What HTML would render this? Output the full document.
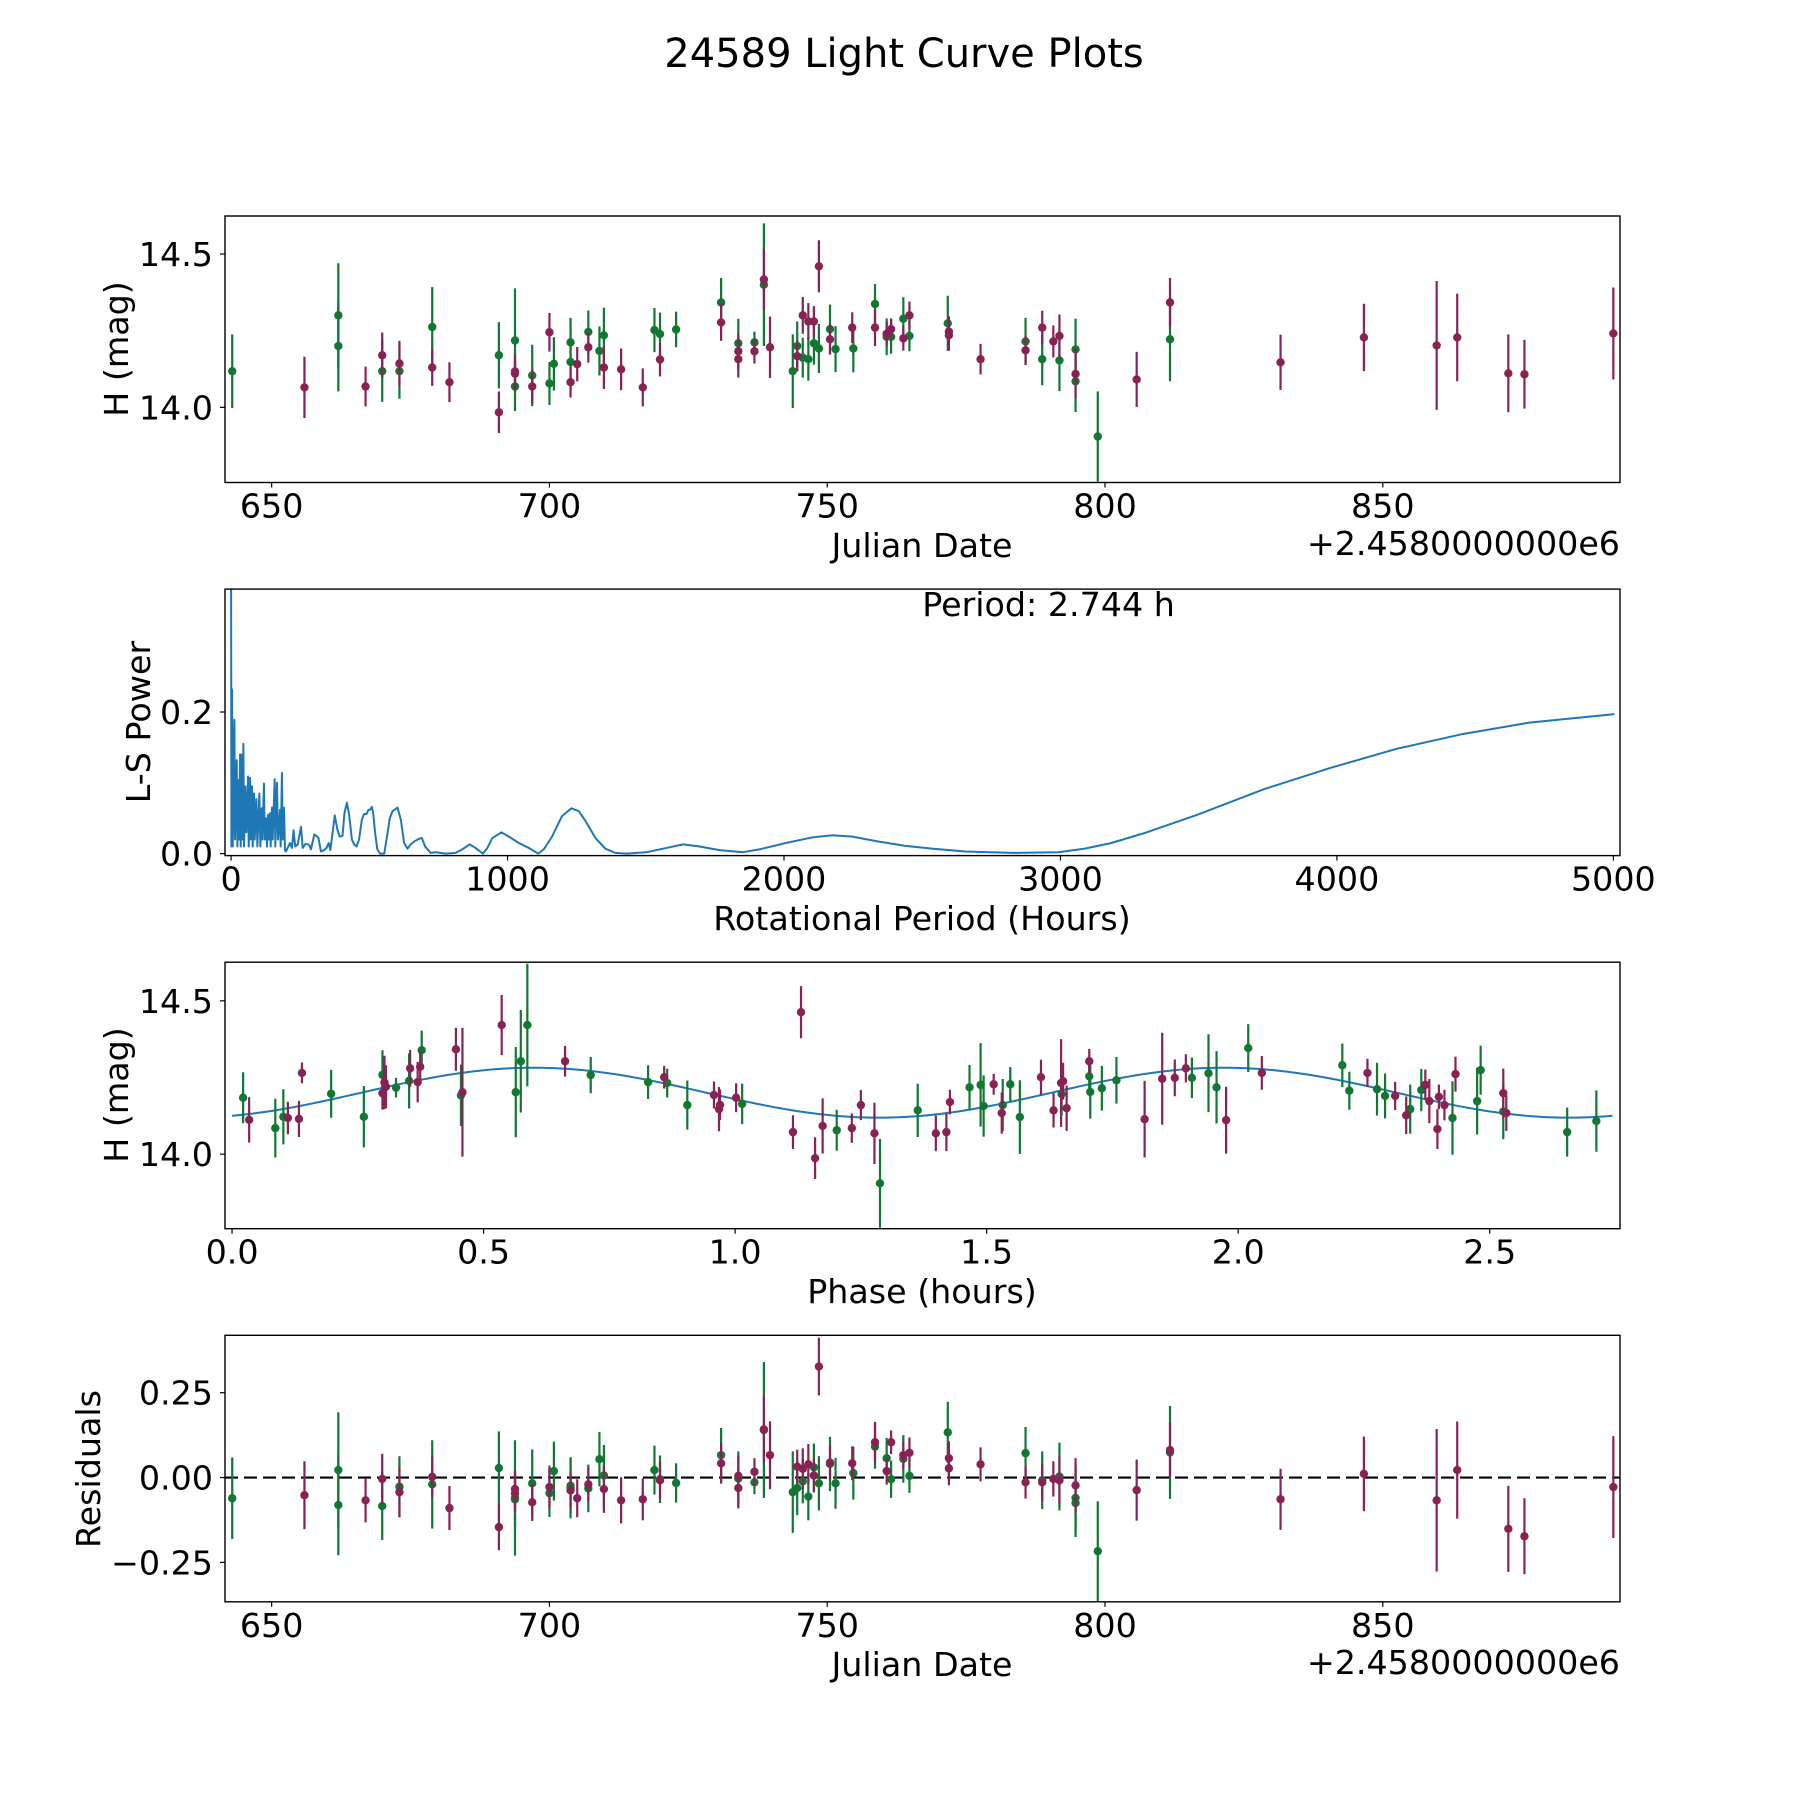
<!DOCTYPE html>
<html><head><meta charset="utf-8"><style>
html,body{margin:0;padding:0;background:#fff}
svg{display:block}
text{font-family:"DejaVu Sans","Liberation Sans",sans-serif;fill:#000}
</style></head><body>
<svg id="fig" width="1800" height="1800" viewBox="0 0 1800 1800" xmlns="http://www.w3.org/2000/svg">
<rect width="1800" height="1800" fill="#fff"/>
<text x="904" y="67" font-size="40" text-anchor="middle">24589 Light Curve Plots</text>
<defs>
<clipPath id="c1"><rect x="225" y="216" width="1395" height="266.5"/></clipPath>
<clipPath id="c2"><rect x="225" y="589.1" width="1395" height="266.5"/></clipPath>
<clipPath id="c3"><rect x="225" y="962.2" width="1395" height="266.5"/></clipPath>
<clipPath id="c4"><rect x="225" y="1335.3" width="1395" height="266.5"/></clipPath>
</defs>
<g id="root"></g>
</svg>
<script>
// ---- Observation data (JD - 2458000) ----
const jd = [642.9,655.9,662.0,662.0,666.9,669.9,669.9,673.0,673.0,678.9,678.9,682.0,690.9,690.9,693.8,693.8,693.8,693.8,696.9,696.9,700.0,700.0,700.8,703.8,703.8,703.8,705.0,707.0,707.0,709.0,709.8,709.8,712.9,716.8,718.9,719.9,719.9,722.8,730.9,730.9,734.0,734.0,734.0,736.9,736.9,738.6,738.6,739.7,743.8,744.6,744.6,745.6,745.6,746.6,746.6,747.6,747.6,748.5,748.5,750.5,750.5,751.5,754.5,754.7,758.6,758.6,760.7,760.7,761.5,761.5,763.7,763.7,764.8,764.8,771.7,771.9,771.9,777.6,785.7,785.7,788.7,788.7,790.7,791.8,791.8,794.7,794.7,794.7,798.7,805.7,811.7,811.7,831.6,846.6,859.7,863.4,872.6,875.5,891.5];
const mag = [14.118,14.065,14.30,14.20,14.068,14.17,14.118,14.118,14.143,14.13,14.262,14.082,14.17,13.984,14.117,14.11,14.068,14.218,14.104,14.068,14.245,14.078,14.142,14.212,14.148,14.082,14.141,14.246,14.196,14.184,14.235,14.13,14.124,14.065,14.252,14.239,14.156,14.254,14.342,14.277,14.209,14.183,14.157,14.212,14.183,14.40,14.417,14.196,14.118,14.2,14.167,14.3,14.162,14.28,14.157,14.28,14.209,14.46,14.192,14.255,14.222,14.19,14.26,14.192,14.337,14.26,14.23,14.24,14.255,14.23,14.289,14.225,14.3,14.233,14.274,14.247,14.235,14.157,14.215,14.186,14.26,14.157,14.215,14.233,14.153,14.189,14.109,14.085,13.905,14.091,14.342,14.222,14.147,14.228,14.202,14.228,14.111,14.108,14.241];
const magErr = [.12,.10,.17,.148,.065,.074,.1,.09,.074,.06,.13,.065,.108,.068,.055,.055,.08,.17,.1,.055,.063,.07,.087,.08,.09,.05,.056,.07,.05,.08,.09,.07,.068,.062,.072,.07,.055,.058,.08,.06,.08,.06,.06,.035,.04,.2,.1,.1,.12,.08,.05,.06,.065,.06,.07,.05,.07,.085,.08,.08,.05,.075,.05,.078,.065,.06,.06,.04,.035,.055,.07,.04,.045,.05,.09,.05,.05,.05,.077,.048,.055,.085,.052,.07,.1,.1,.08,.1,.147,.09,.08,.137,.09,.11,.21,.143,.127,.112,.15];
const filt = "GPGGPPGGPPGPGPPPGGGPPGGGGPPGPGGPPPGGPGGPGPPGPGPPGGPPGPGPGPGGPGPGGPGPPGGPPGGPPPGPPGPPGGPGGPPGPPPPPPPP".split("");
const resid = [-.061,-.052,.022,-.081,-.067,-.004,-.084,-.027,-.043,.002,-.02,-.09,.028,-.146,-.034,-.047,-.064,-.06,-.017,-.073,-.028,-.046,.019,-.024,-.03,-.038,-.061,-.032,-.02,.054,.006,-.034,-.067,-.064,.022,-.005,-.008,-.016,.066,.042,-.003,.005,-.031,-.014,.017,.14,.142,.066,-.043,-.031,.032,.026,-.011,.039,-.056,.006,.03,.327,-.017,.04,.044,-.017,.042,.013,.091,.104,.057,.019,.104,-.005,.055,.066,.073,.005,.133,.057,.027,.039,.072,-.014,-.014,-.008,-.004,-.008,.003,-.06,-.023,-.075,-.217,-.037,.081,.074,-.064,.011,-.067,.022,-.151,-.173,-.028];

// ---- Phase-folded data ----
const phase = [.022,.034,.086,.102,.111,.133,.139,.197,.262,.299,.299,.303,.306,.326,.352,.354,.369,.374,.377,.445,.455,.458,.536,.564,.574,.587,.662,.713,.827,.859,.865,.905,.958,.968,.970,1.002,1.014,1.115,1.131,1.159,1.174,1.202,1.232,1.25,1.277,1.288,1.363,1.399,1.42,1.427,1.466,1.488,1.494,1.514,1.53,1.532,1.547,1.566,1.608,1.633,1.648,1.649,1.652,1.659,1.704,1.704,1.706,1.729,1.758,1.814,1.849,1.874,1.896,1.908,1.941,1.957,1.976,2.02,2.047,2.207,2.221,2.257,2.276,2.292,2.312,2.334,2.342,2.364,2.372,2.38,2.396,2.399,2.41,2.426,2.432,2.475,2.482,2.527,2.527,2.533,2.654,2.712];
const phMag = [14.184,14.112,14.085,14.122,14.118,14.115,14.265,14.197,14.122,14.259,14.199,14.234,14.22,14.217,14.239,14.28,14.235,14.285,14.339,14.342,14.192,14.202,14.421,14.202,14.303,14.421,14.303,14.258,14.235,14.251,14.232,14.16,14.193,14.147,14.161,14.184,14.164,14.072,14.463,13.987,14.092,14.078,14.085,14.16,14.068,13.905,14.143,14.068,14.072,14.17,14.218,14.226,14.157,14.228,14.134,14.16,14.228,14.121,14.251,14.143,14.232,14.196,14.238,14.15,14.303,14.254,14.203,14.215,14.241,14.114,14.246,14.249,14.28,14.249,14.264,14.218,14.111,14.346,14.265,14.29,14.207,14.265,14.212,14.19,14.19,14.127,14.147,14.209,14.226,14.173,14.082,14.187,14.16,14.118,14.261,14.173,14.274,14.199,14.139,14.134,14.072,14.108];
const phErr = [.083,.074,.096,.09,.053,.059,.034,.078,.1,.08,.054,.087,.07,.032,.09,.06,.066,.05,.064,.07,.1,.21,.098,.147,.167,.2,.05,.059,.055,.037,.047,.08,.044,.072,.05,.047,.066,.055,.085,.068,.09,.067,.048,.049,.1,.145,.087,.058,.062,.04,.073,.136,.1,.034,.067,.085,.056,.12,.057,.056,.143,.07,.06,.074,.04,.06,.087,.073,.076,.125,.15,.06,.046,.066,.127,.118,.109,.078,.055,.071,.062,.046,.086,.073,.046,.061,.08,.069,.05,.072,.065,.04,.05,.12,.057,.109,.08,.08,.09,.058,.08,.1];
const phFilt = "GPGGPPPGGGPPPGGPPPGPGPPGGGPGGPGGPPPPGPPPPGPPPGGPPPGGGPPGGGPPPGPPPGGGGPPPPGGGPGPGGPGGPPGGPPPPPGPGGPGPGG".split("");
// fitted model parameters
const fitMean = [14.2005];
const fitAmp = [0.0815];
const fitHalf = [1.372];
const fitPeak = [0.6];
const fitPeriod = [2.744];

// ---- Lomb-Scargle periodogram (period hours, power) ----
const lsPeriod = [0,1.2,3.6,6,12,14.4,20.5,22.9,26.5,28.9,32.5,34.9,38.5,40.9,44.5,46.9,51.7,55.4,61.4,63.8,68.6,71,75.8,78.2,83,85.4,91.5,95,102.3,105.9,110.7,113,119,121.5,126.4,130,133.6,136,140.8,143.2,148,150.4,157.6,160,166,169.7,176.9,179.3,184,186.5,191.3,195,
 198.6,213,220,226,232,241,253,259,268,273,283,289,301,309,316,325,337,345,353,359,367,375,385,393,403,410,419,427,437,445,454,463,473,481,490,497,503,509,514,521,529,539,554,566,574,584,602,614,626,638,650,662,680,690,702,722,740,776,812,836,863,884,911,927,945,978,1005,1041,1077,1111,1131,1161,1197,1231,1258,1282,1318,1354,1390,
 1431,1503,1575,1635,1695,1767,1851,1911,2007,2103,2175,2247,2343,2439,2535,2655,2824,2992,3088,3184,3304,3496,3736,3976,4216,4456,4696,5004];
const lsPower = [0.40,0.01,0.232,0.01,0.189,0.02,0.132,0.01,0.104,0.02,0.14,0.01,0.14,0.02,0.155,0.01,0.095,0.03,0.109,0.01,0.107,0.02,0.095,0.01,0.085,0.02,0.077,0.01,0.085,0.01,0.064,0.02,0.099,0.02,0.05,0.01,0.055,0.02,0.057,0.01,0.065,0.02,0.105,0.01,0.1,0.02,0.062,0.01,0.114,0.02,0.065,0.005,
 0.003,0.015,0.008,0.033,0.010,0.013,0.038,0.008,0.013,0.014,0.012,0.006,0.027,0.025,0.022,0.003,0.005,0.008,0.015,0.005,0.029,0.054,0.033,0.024,0.025,0.057,0.072,0.055,0.020,0.013,0.010,0.020,0.048,0.056,0.056,0.062,0.062,0.066,0.057,0.029,0.006,0,0,0.029,0.050,0.060,0.065,0.048,0.015,0.007,0.013,0.017,0.021,0.022,0.010,0.001,0.002,0,0.001,0.006,0.013,0.008,0,0.008,0.022,0.030,0.024,0.015,0.008,0,0.006,0.024,0.053,0.064,0.060,0.046,0.022,0.007,0.001,
 0,0.002,0.008,0.013,0.010,0.005,0.002,0.006,0.015,0.023,0.026,0.024,0.017,0.011,0.007,0.003,0.001,0.002,0.007,0.015,0.029,0.055,0.091,0.121,0.148,0.169,0.185,0.197];

// ---- Tick labels ----
const jdTicks = [650,700,750,800,850];
const magTicks = [14.0,14.5];
const magTickLabels = ["14.0","14.5"];
const lsXTicks = [0,1000,2000,3000,4000,5000];
const lsYTicks = [0.0,0.2];
const lsYTickLabels = ["0.0","0.2"];
const phTicks = [0.0,0.5,1.0,1.5,2.0,2.5];
const phTickLabels = ["0.0","0.5","1.0","1.5","2.0","2.5"];
const resTicks = [-0.25,0,0.25];
const resTickLabels = ["\u22120.25","0.00","0.25"];

const NS = "http://www.w3.org/2000/svg";
const root = document.getElementById("root");
const GREEN = "#117733", PURPLE = "#882255", BLUE = "#1f77b4";

function el(tag, attrs, parent) {
  const e = document.createElementNS(NS, tag);
  for (const k in attrs) e.setAttribute(k, attrs[k]);
  (parent || root).appendChild(e);
  return e;
}
function makeAxis(x0, x1, y0, y1, xmin, xmax, ymin, ymax) {
  return {
    x0, x1, y0, y1,
    sx: v => x0 + (v - xmin) / (xmax - xmin) * (x1 - x0),
    sy: v => y1 - (v - ymin) / (ymax - ymin) * (y1 - y0)
  };
}
const ax1 = makeAxis(225, 1620, 216, 482.5, 641.6, 892.7, 13.755, 14.624);
const ax2 = makeAxis(225, 1620, 589.1, 855.6, -22, 5024, -0.0028, 0.3736);
const ax3 = makeAxis(225, 1620, 962.2, 1228.7, -0.014, 2.759, 13.757, 14.626);
const ax4 = makeAxis(225, 1620, 1335.3, 1601.8, 641.6, 892.7, -0.366, 0.419);

function frame(ax, name) {
  const r = el("rect", {x: ax.x0, y: ax.y0, width: ax.x1 - ax.x0, height: ax.y1 - ax.y0, fill: "none", stroke: "#000", "stroke-width": 1.4});
  
  
}
function xTicks(ax, vals, labels, name) {
  const g = el("g", {});
  
  
  vals.forEach((v, i) => {
    const x = ax.sx(v);
    el("line", {x1: x, x2: x, y1: ax.y1, y2: ax.y1 + 5, stroke: "#000", "stroke-width": 1.2}, g);
    const t = el("text", {x: x, y: ax.y1 + 35, "font-size": 33.3, "text-anchor": "middle"}, g);
    t.textContent = labels[i];
    
    
  });
}
function yTicks(ax, vals, labels, name) {
  const g = el("g", {});
  
  
  vals.forEach((v, i) => {
    const y = ax.sy(v);
    el("line", {x1: ax.x0 - 5, x2: ax.x0, y1: y, y2: y, stroke: "#000", "stroke-width": 1.2}, g);
    const t = el("text", {x: ax.x0 - 12, y: y + 12, "font-size": 33.3, "text-anchor": "end"}, g);
    t.textContent = labels[i];
    
    
  });
}
function label(txt, x, y, rot, name, anchor) {
  const t = el("text", {x: x, y: y, "font-size": 33.3, "text-anchor": anchor || "middle"});
  if (rot) t.setAttribute("transform", "rotate(-90 " + x + " " + y + ")");
  t.textContent = txt;
  
  
}
function errPoints(ax, clip, xs, ys, es, fs, name) {
  const g = el("g", {"clip-path": "url(#" + clip + ")"});
  
  
  ["G", "P"].forEach(f => {
    const col = f === "G" ? GREEN : PURPLE;
    xs.forEach((xv, i) => {
      if (fs[i] !== f) return;
      const x = ax.sx(xv);
      const ln = el("line", {x1: x, x2: x, y1: ax.sy(ys[i] - es[i]), y2: ax.sy(ys[i] + es[i]), stroke: col, "stroke-width": 2.2}, g);
      
      
      const c = el("circle", {cx: x, cy: ax.sy(ys[i]), r: 4.2, fill: col}, g);
      
      
    });
  });
}

// ---------- Panel 1 ----------
errPoints(ax1, "c1", jd, mag, magErr, filt, "light-curve-points");
frame(ax1, "light-curve");
xTicks(ax1, jdTicks, jdTicks.map(String), "light-curve");
yTicks(ax1, magTicks, magTickLabels, "light-curve");
label("Julian Date", 922, 557, false, "light-curve-x-axis-title");
label("+2.4580000000e6", 1620, 555, false, "light-curve-offset-text", "end");
label("H (mag)", 128, 349, true, "light-curve-y-axis-title");

// ---------- Panel 2 ----------
{
  const g = el("g", {"clip-path": "url(#c2)"});
  
  
  const d = lsPeriod.map((p, i) => (i ? "L" : "M") + ax2.sx(p).toFixed(2) + " " + ax2.sy(lsPower[i]).toFixed(2)).join(" ");
  const pl = el("path", {d: d, fill: "none", stroke: BLUE, "stroke-width": 2, "stroke-linejoin": "round"}, g);
  
  
}
frame(ax2, "periodogram");
xTicks(ax2, lsXTicks, lsXTicks.map(String), "periodogram");
yTicks(ax2, lsYTicks, lsYTickLabels, "periodogram");
label("Period: " + fitPeriod[0].toFixed(3) + " h", ax2.sx(2500), 616, false, "period-annotation", "start");
label("Rotational Period (Hours)", 922, 930, false, "periodogram-x-axis-title");
label("L-S Power", 150, 722, true, "periodogram-y-axis-title");

// ---------- Panel 3 ----------
{
  const g = el("g", {"clip-path": "url(#c3)"});
  
  
  const pts = [];
  for (let k = 0; k <= 300; k++) {
    const p = fitPeriod[0] * k / 300;
    const m = fitMean[0] + fitAmp[0] * Math.cos(2 * Math.PI * (p - fitPeak[0]) / fitHalf[0]);
    pts.push((k ? "L" : "M") + ax3.sx(p).toFixed(2) + " " + ax3.sy(m).toFixed(2));
  }
  const pl = el("path", {d: pts.join(" "), fill: "none", stroke: BLUE, "stroke-width": 2}, g);
  
  
}
errPoints(ax3, "c3", phase, phMag, phErr, phFilt, "phase-points");
frame(ax3, "phase-plot");
xTicks(ax3, phTicks, phTickLabels, "phase-plot");
yTicks(ax3, magTicks, magTickLabels, "phase-plot");
label("Phase (hours)", 922, 1303, false, "phase-x-axis-title");
label("H (mag)", 128, 1095, true, "phase-y-axis-title");

// ---------- Panel 4 ----------
{
  const zl = el("line", {x1: ax4.x0, x2: ax4.x1, y1: ax4.sy(0), y2: ax4.sy(0), stroke: "#000", "stroke-width": 2.2, "stroke-dasharray": "13 6"});
  
  
}
errPoints(ax4, "c4", jd, resid, magErr, filt, "residual-points");
frame(ax4, "residuals");
xTicks(ax4, jdTicks, jdTicks.map(String), "residuals");
yTicks(ax4, resTicks, resTickLabels, "residuals");
label("Julian Date", 922, 1676, false, "residuals-x-axis-title");
label("+2.4580000000e6", 1620, 1674, false, "residuals-offset-text", "end");
label("Residuals", 100, 1469, true, "residuals-y-axis-title");
</script>
</body></html>
